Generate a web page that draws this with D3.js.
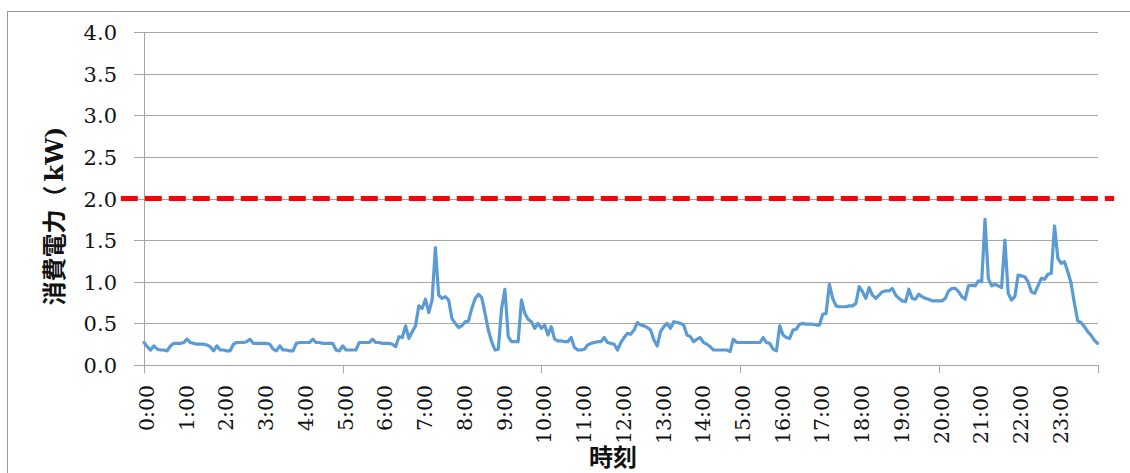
<!DOCTYPE html>
<html>
<head>
<meta charset="utf-8">
<script src="https://cdn.jsdelivr.net/npm/d3@7"></script>
<style>
  body { margin: 0; background: #fff; }
  svg { display: block; }
</style>
</head>
<body>
<svg id="chart" width="1130" height="473"></svg>
<script>
// 5分ごとの消費電力 (kW), 0:00 ～ 24:00
const power = [
  0.27,0.22,0.18,0.23,0.19,0.18,0.18,0.17,0.23,0.26,0.26,0.26,
  0.27,0.31,0.27,0.26,0.25,0.25,0.25,0.24,0.22,0.17,0.23,0.18,
  0.18,0.17,0.17,0.25,0.27,0.27,0.27,0.28,0.31,0.26,0.26,0.26,
  0.26,0.26,0.25,0.19,0.17,0.23,0.18,0.18,0.17,0.17,0.26,0.27,
  0.27,0.27,0.27,0.31,0.27,0.27,0.26,0.26,0.26,0.26,0.18,0.17,
  0.23,0.18,0.18,0.18,0.18,0.27,0.27,0.27,0.27,0.31,0.27,0.27,
  0.26,0.26,0.26,0.25,0.22,0.34,0.33,0.47,0.32,0.40,0.47,0.71,
  0.68,0.79,0.63,0.78,1.41,0.84,0.80,0.82,0.78,0.56,0.50,0.45,
  0.47,0.52,0.53,0.68,0.80,0.85,0.81,0.62,0.42,0.28,0.18,0.19,
  0.68,0.91,0.34,0.28,0.28,0.28,0.78,0.62,0.55,0.52,0.44,0.50,
  0.44,0.48,0.36,0.46,0.31,0.29,0.29,0.28,0.28,0.33,0.21,0.18,
  0.18,0.19,0.24,0.26,0.27,0.28,0.28,0.33,0.27,0.26,0.25,0.18,
  0.27,0.33,0.38,0.37,0.42,0.51,0.48,0.47,0.45,0.42,0.30,0.23,
  0.40,0.46,0.50,0.44,0.52,0.51,0.50,0.48,0.36,0.34,0.28,0.31,
  0.33,0.27,0.25,0.22,0.18,0.18,0.18,0.18,0.18,0.16,0.31,0.27,
  0.27,0.27,0.27,0.27,0.27,0.27,0.27,0.33,0.27,0.26,0.19,0.17,
  0.47,0.36,0.33,0.32,0.42,0.43,0.49,0.50,0.49,0.49,0.49,0.48,
  0.48,0.61,0.62,0.97,0.80,0.71,0.70,0.70,0.70,0.71,0.71,0.74,
  0.94,0.88,0.80,0.93,0.84,0.80,0.84,0.88,0.89,0.89,0.92,0.84,
  0.80,0.77,0.76,0.91,0.80,0.79,0.85,0.82,0.80,0.79,0.77,0.77,
  0.77,0.77,0.80,0.89,0.92,0.92,0.88,0.82,0.79,0.95,0.96,0.95,
  1.01,1.00,1.75,1.04,0.95,0.97,0.95,0.93,1.50,0.86,0.78,0.82,
  1.08,1.07,1.06,1.00,0.88,0.86,0.95,1.04,1.03,1.09,1.10,1.67,
  1.28,1.22,1.24,1.12,0.98,0.74,0.53,0.51,0.46,0.40,0.36,0.30,0.26
];
const hourLabels = d3.range(24).map(h => `${h}:00`);
const majorTickHours = [0, 5, 10, 15, 20, 24];
const yTicks = [0, 0.5, 1.0, 1.5, 2.0, 2.5, 3.0, 3.5, 4.0];
const limitKw = 2.0;
const limitSpanMin = [-35, 1465]; // 赤線はプロット枠より少しはみ出す

document.addEventListener('DOMContentLoaded', () => {
    const svg = d3.select("#chart");
    const plot = { left: 144, right: 1097.6, top: 32, bottom: 365 };
    const gridColor = "#a6a6a6";
    const numFont = "'DejaVu Serif', serif";

    const x = d3.scaleLinear().domain([0, 1440]).range([plot.left, plot.right]);
    const y = d3.scaleLinear().domain([0, 4]).range([plot.bottom, plot.top]);

    // 外枠
    svg.append("rect")
        .attr("x", 7.5).attr("y", 11.5)
        .attr("width", 1140).attr("height", 480)
        .attr("fill", "none").attr("stroke", "#999").attr("stroke-width", 1);

    // 横グリッド + y軸目盛
    const yAxis = d3.axisLeft(y).tickValues(yTicks)
        .tickSize(plot.right - plot.left + 10).tickFormat(d => d.toFixed(1)).tickPadding(17);
    const gy = svg.append("g")
        .attr("transform", `translate(${plot.right},0)`)
        .call(yAxis);
    gy.select(".domain").remove();
    gy.selectAll(".tick line").attr("stroke", gridColor).attr("shape-rendering", "crispEdges");
    gy.selectAll(".tick text")
        .attr("font-family", numFont).attr("font-size", 21).attr("fill", "#111")
        .attr("dy", "0.36em");

    // y軸の線
    svg.append("line")
        .attr("x1", plot.left).attr("x2", plot.left)
        .attr("y1", plot.top).attr("y2", plot.bottom)
        .attr("stroke", gridColor).attr("shape-rendering", "crispEdges");

    // x軸 (目盛線は5時間ごと、ラベルは1時間ごと)
    const xAxis = d3.axisBottom(x).tickValues(majorTickHours.map(h => h * 60))
        .tickSize(8).tickFormat("");
    const gx = svg.append("g")
        .attr("transform", `translate(0,${plot.bottom})`)
        .call(xAxis);
    gx.select(".domain").attr("stroke", gridColor).attr("shape-rendering", "crispEdges")
        .attr("d", `M${plot.left},0H${plot.right}`);
    gx.selectAll(".tick line").attr("stroke", gridColor).attr("shape-rendering", "crispEdges");

    svg.append("g").selectAll("text")
        .data(hourLabels)
        .enter().append("text")
        .attr("transform", (d, i) => `translate(${x(i * 60) + 10},385) rotate(-90)`)
        .attr("text-anchor", "end")
        .attr("font-family", numFont).attr("font-size", 20.5).attr("fill", "#111")
        .text(d => d);

    // 消費電力の線
    const line = d3.line()
        .x((d, i) => x(i * 5))
        .y(d => y(d));
    svg.append("path")
        .datum(power)
        .attr("d", line)
        .attr("fill", "none")
        .attr("stroke", "#5b9bd5")
        .attr("stroke-width", 3.2)
        .attr("stroke-linejoin", "round")
        .attr("stroke-linecap", "round");

    // 上限 2.0kW の赤破線
    svg.append("line")
        .attr("x1", x(limitSpanMin[0])).attr("x2", x(limitSpanMin[1]))
        .attr("y1", y(limitKw)).attr("y2", y(limitKw))
        .attr("stroke", "#ff0000")
        .attr("stroke-width", 5)
        .attr("stroke-dasharray", "17,7");

    // 軸タイトル
    const yTitle = svg.append("text")
        .attr("transform", "translate(63,216) rotate(-90)")
        .attr("text-anchor", "middle")
        .attr("font-weight", "bold")
        .attr("font-size", 24)
        .attr("fill", "#111");
    yTitle.append("tspan").attr("font-family", "'Noto Sans CJK JP', sans-serif").text("消費電力（");
    yTitle.append("tspan").attr("font-family", numFont).attr("dx", 4).text("kW)");

    svg.append("text")
        .attr("x", 613).attr("y", 466)
        .attr("text-anchor", "middle")
        .attr("font-family", "'Noto Sans CJK JP', sans-serif")
        .attr("font-weight", "bold")
        .attr("font-size", 24)
        .attr("fill", "#111")
        .text("時刻");
});
</script>
</body>
</html>
